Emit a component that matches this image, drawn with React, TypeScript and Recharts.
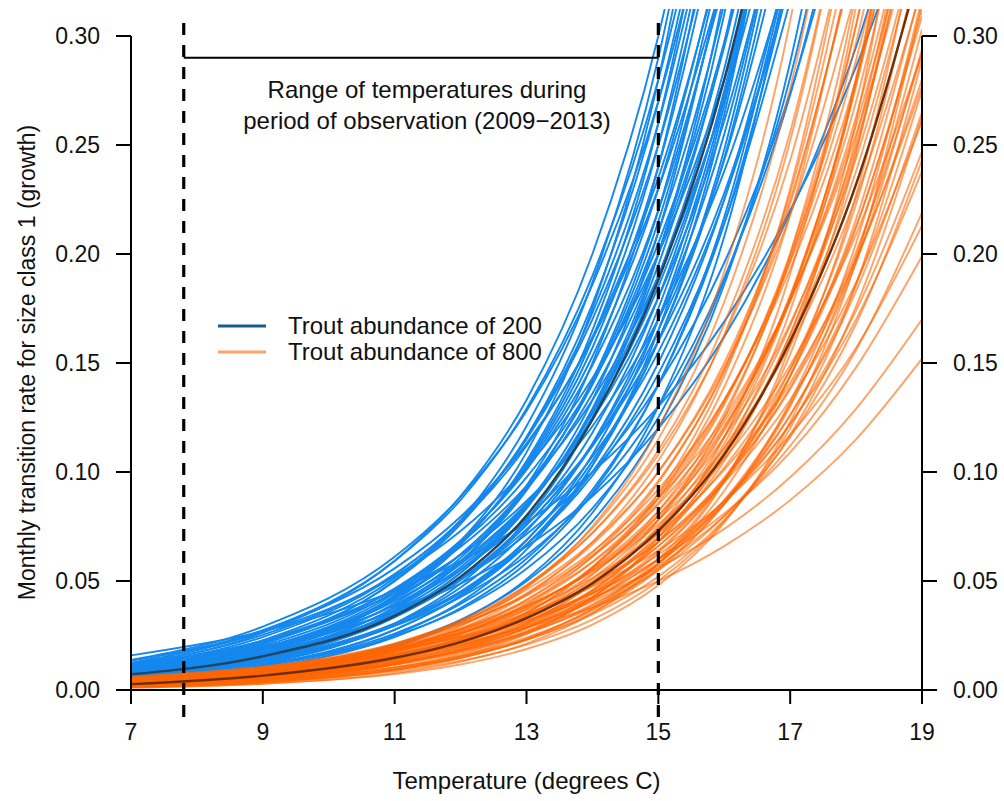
import React from 'react';
import { LineChart, Line, XAxis, YAxis, ReferenceLine, Legend } from 'recharts';

const FONT = '"Liberation Sans", Arial, Helvetica, sans-serif';

const temps = [7, 9, 11, 12, 13, 14, 15, 16, 17, 18, 19];
const xTicks = [7, 9, 11, 13, 15, 17, 19];
const yTicks = [0, 0.05, 0.1, 0.15, 0.2, 0.25, 0.3];
const obsRange = [7.8, 15];
const obsLineY = 0.29;
const annotationLines = ['Range of temperatures during', 'period of observation (2009\u22122013)'];
const legendLabels = ['Trout abundance of 200', 'Trout abundance of 800'];
const xTitle = 'Temperature (degrees C)';
const yTitle = 'Monthly transition rate for size class 1 (growth)';

// values at temps 7, 9, 11, 12, 13, 14, 15, 16, 17, 18, 19 (curves end once they leave the plot)
const blueCurves: number[][] = [
  [0.0136, 0.0266, 0.0521, 0.0729, 0.102, 0.143, 0.2, 0.28, 0.392],
  [0.0115, 0.0226, 0.0443, 0.0619, 0.0867, 0.121, 0.17, 0.238, 0.333],
  [0.0095, 0.0186, 0.0364, 0.051, 0.0714, 0.1, 0.14, 0.196, 0.274, 0.384],
  [0.0138, 0.0291, 0.0611, 0.0886, 0.128, 0.186, 0.27, 0.392],
  [0.012, 0.0253, 0.0532, 0.0771, 0.112, 0.162, 0.235, 0.341],
  [0.0105, 0.0221, 0.0464, 0.0672, 0.0975, 0.141, 0.205, 0.297, 0.431],
  [0.0092, 0.0194, 0.0407, 0.059, 0.0856, 0.124, 0.18, 0.261, 0.379],
  [0.0079, 0.0167, 0.0351, 0.0508, 0.0737, 0.107, 0.155, 0.225, 0.326],
  [0.0067, 0.014, 0.0294, 0.0426, 0.0618, 0.0897, 0.13, 0.189, 0.273, 0.396],
  [0.0117, 0.0263, 0.0593, 0.0889, 0.133, 0.2, 0.3, 0.45],
  [0.0101, 0.0228, 0.0514, 0.077, 0.116, 0.173, 0.26, 0.39],
  [0.009, 0.0202, 0.0454, 0.0682, 0.102, 0.153, 0.23, 0.345],
  [0.0082, 0.0184, 0.0415, 0.0622, 0.0933, 0.14, 0.21, 0.315, 0.473],
  [0.0074, 0.0167, 0.0375, 0.0563, 0.0844, 0.127, 0.19, 0.285, 0.428],
  [0.0066, 0.0149, 0.0336, 0.0504, 0.0756, 0.113, 0.17, 0.255, 0.383],
  [0.0059, 0.0132, 0.0296, 0.0444, 0.0667, 0.1, 0.15, 0.225, 0.338],
  [0.0049, 0.011, 0.0247, 0.037, 0.0556, 0.0833, 0.125, 0.188, 0.281, 0.422],
  [0.0087, 0.0209, 0.0503, 0.0779, 0.121, 0.187, 0.29, 0.45],
  [0.0075, 0.018, 0.0433, 0.0671, 0.104, 0.161, 0.25, 0.388],
  [0.0066, 0.0159, 0.0381, 0.0591, 0.0916, 0.142, 0.22, 0.341],
  [0.006, 0.0144, 0.0347, 0.0537, 0.0832, 0.129, 0.2, 0.31, 0.481],
  [0.0053, 0.0126, 0.0303, 0.047, 0.0728, 0.113, 0.175, 0.271, 0.42],
  [0.0048, 0.0115, 0.0277, 0.043, 0.0666, 0.103, 0.16, 0.248, 0.384],
  [0.0042, 0.0101, 0.0243, 0.0376, 0.0583, 0.0903, 0.14, 0.217, 0.336],
  [0.0036, 0.0087, 0.0208, 0.0322, 0.0499, 0.0774, 0.12, 0.186, 0.288, 0.447],
  [0.0065, 0.0167, 0.0427, 0.0683, 0.109, 0.175, 0.28, 0.448],
  [0.0056, 0.0143, 0.0366, 0.0586, 0.0937, 0.15, 0.24, 0.384],
  [0.0047, 0.0119, 0.0305, 0.0488, 0.0781, 0.125, 0.2, 0.32, 0.512],
  [0.0038, 0.0098, 0.0252, 0.0403, 0.0644, 0.103, 0.165, 0.264, 0.422],
  [0.003, 0.0078, 0.0198, 0.0317, 0.0508, 0.0813, 0.13, 0.208, 0.333],
  [0.0159, 0.0269, 0.0455, 0.0592, 0.0769, 0.1, 0.13, 0.169, 0.22, 0.286, 0.371],
  [0.0109, 0.0198, 0.0361, 0.0488, 0.0658, 0.0889, 0.12, 0.162, 0.219, 0.295, 0.399],
  [0.0125, 0.0272, 0.0592, 0.0872, 0.129, 0.19, 0.28, 0.413],
  [0.0112, 0.0243, 0.0528, 0.0779, 0.115, 0.17, 0.25, 0.369],
  [0.0098, 0.0214, 0.0465, 0.0686, 0.101, 0.149, 0.22, 0.325],
  [0.0089, 0.0194, 0.0423, 0.0623, 0.0919, 0.136, 0.2, 0.295, 0.435],
  [0.0083, 0.018, 0.0391, 0.0577, 0.085, 0.125, 0.185, 0.273, 0.403],
  [0.0074, 0.016, 0.0349, 0.0514, 0.0758, 0.112, 0.165, 0.243, 0.359],
  [0.0065, 0.0141, 0.0306, 0.0452, 0.0666, 0.0983, 0.145, 0.214, 0.316],
  [0.0092, 0.0215, 0.0499, 0.0761, 0.116, 0.177, 0.27, 0.412],
  [0.0082, 0.0191, 0.0444, 0.0677, 0.103, 0.157, 0.24, 0.366],
  [0.0074, 0.0171, 0.0398, 0.0606, 0.0925, 0.141, 0.215, 0.328],
  [0.0067, 0.0155, 0.0361, 0.055, 0.0839, 0.128, 0.195, 0.297, 0.454],
  [0.0062, 0.0143, 0.0333, 0.0508, 0.0774, 0.118, 0.18, 0.275, 0.419],
  [0.0055, 0.0127, 0.0296, 0.0451, 0.0688, 0.105, 0.16, 0.244, 0.372],
  [0.0048, 0.0111, 0.0259, 0.0395, 0.0602, 0.0918, 0.14, 0.214, 0.326],
  [0.0135, 0.0275, 0.0558, 0.0795, 0.113, 0.161, 0.23, 0.328],
  [0.0112, 0.0227, 0.0461, 0.0657, 0.0936, 0.133, 0.19, 0.271, 0.386],
  [0.0094, 0.0191, 0.0388, 0.0553, 0.0788, 0.112, 0.16, 0.228, 0.325],
  [0.0069, 0.017, 0.0423, 0.0666, 0.105, 0.165, 0.26, 0.41],
  [0.0055, 0.0138, 0.0341, 0.0538, 0.0847, 0.133, 0.21, 0.331],
  [0.0045, 0.0111, 0.0276, 0.0435, 0.0685, 0.108, 0.17, 0.268, 0.422],
];
const blueMean = [0.0072, 0.0155, 0.034, 0.052, 0.08, 0.124, 0.188, 0.28, 0.415];

const orangeCurves: number[][] = [
  [0.0054, 0.0095, 0.0165, 0.0217, 0.0287, 0.0379, 0.05, 0.066, 0.0871, 0.115, 0.152],
  [0.0061, 0.0106, 0.0184, 0.0243, 0.0321, 0.0424, 0.056, 0.0739, 0.0976, 0.129, 0.17],
  [0.0054, 0.0099, 0.0181, 0.0244, 0.0329, 0.0444, 0.06, 0.081, 0.109, 0.148, 0.199],
  [0.0058, 0.0106, 0.0193, 0.026, 0.0351, 0.0474, 0.064, 0.0864, 0.117, 0.157, 0.213],
  [0.0039, 0.0076, 0.0148, 0.0208, 0.0291, 0.0407, 0.057, 0.0798, 0.112, 0.156, 0.219],
  [0.0042, 0.0082, 0.0161, 0.0226, 0.0316, 0.0443, 0.062, 0.0868, 0.122, 0.17, 0.238],
  [0.0046, 0.009, 0.0177, 0.0248, 0.0347, 0.0486, 0.068, 0.0952, 0.133, 0.187, 0.261],
  [0.0049, 0.0096, 0.0187, 0.0262, 0.0367, 0.0514, 0.072, 0.101, 0.141, 0.198, 0.277],
  [0.0052, 0.0101, 0.0198, 0.0277, 0.0388, 0.0543, 0.076, 0.106, 0.149, 0.209, 0.292],
  [0.0028, 0.0059, 0.0124, 0.018, 0.0262, 0.0379, 0.055, 0.0798, 0.116, 0.168, 0.243],
  [0.0031, 0.0065, 0.0136, 0.0197, 0.0285, 0.0414, 0.06, 0.087, 0.126, 0.183, 0.265],
  [0.0034, 0.0071, 0.0149, 0.0216, 0.0314, 0.0455, 0.066, 0.0957, 0.139, 0.201, 0.292],
  [0.0036, 0.0075, 0.0158, 0.023, 0.0333, 0.0483, 0.07, 0.102, 0.147, 0.213, 0.309],
  [0.0041, 0.0086, 0.0181, 0.0262, 0.0381, 0.0552, 0.08, 0.116, 0.168, 0.244, 0.354],
  [0.0044, 0.0091, 0.0192, 0.0279, 0.0404, 0.0586, 0.085, 0.123, 0.179, 0.259, 0.376],
  [0.0047, 0.0099, 0.0208, 0.0302, 0.0438, 0.0635, 0.092, 0.133, 0.193, 0.28, 0.407],
  [0.002, 0.0046, 0.0103, 0.0154, 0.0231, 0.0347, 0.052, 0.078, 0.117, 0.176, 0.263],
  [0.0023, 0.0051, 0.0115, 0.0172, 0.0258, 0.0387, 0.058, 0.087, 0.131, 0.196, 0.294],
  [0.0025, 0.0056, 0.0126, 0.019, 0.0284, 0.0427, 0.064, 0.096, 0.144, 0.216, 0.324],
  [0.0029, 0.0065, 0.0146, 0.0219, 0.0329, 0.0493, 0.074, 0.111, 0.167, 0.25, 0.375],
  [0.0031, 0.007, 0.0158, 0.0237, 0.0356, 0.0533, 0.08, 0.12, 0.18, 0.27, 0.405],
  [0.0034, 0.0077, 0.0174, 0.0261, 0.0391, 0.0587, 0.088, 0.132, 0.198, 0.297, 0.446],
  [0.0039, 0.0088, 0.0198, 0.0296, 0.0444, 0.0667, 0.1, 0.15, 0.225, 0.338],
  [0.0042, 0.0095, 0.0213, 0.032, 0.048, 0.072, 0.108, 0.162, 0.243, 0.365],
  [0.0015, 0.0036, 0.0087, 0.0134, 0.0208, 0.0323, 0.05, 0.0775, 0.12, 0.186, 0.289],
  [0.0017, 0.004, 0.0095, 0.0148, 0.0229, 0.0355, 0.055, 0.0853, 0.132, 0.205, 0.317],
  [0.002, 0.0049, 0.0118, 0.0183, 0.0283, 0.0439, 0.068, 0.105, 0.163, 0.253, 0.393],
  [0.0023, 0.0054, 0.013, 0.0201, 0.0312, 0.0484, 0.075, 0.116, 0.18, 0.279, 0.433],
  [0.0025, 0.0059, 0.0142, 0.022, 0.0341, 0.0529, 0.082, 0.127, 0.197, 0.305, 0.473],
  [0.0029, 0.0069, 0.0165, 0.0255, 0.0395, 0.0613, 0.095, 0.147, 0.228, 0.354],
  [0.0032, 0.0076, 0.0182, 0.0282, 0.0437, 0.0678, 0.105, 0.163, 0.252, 0.391],
  [0.0035, 0.0083, 0.0199, 0.0309, 0.0479, 0.0742, 0.115, 0.178, 0.276, 0.428],
  [0.0011, 0.0029, 0.0073, 0.0117, 0.0188, 0.03, 0.048, 0.0768, 0.123, 0.197, 0.315],
  [0.0014, 0.0036, 0.0092, 0.0146, 0.0234, 0.0375, 0.06, 0.096, 0.154, 0.246, 0.393],
  [0.0016, 0.0041, 0.0104, 0.0166, 0.0266, 0.0425, 0.068, 0.109, 0.174, 0.279, 0.446],
  [0.0018, 0.0046, 0.0119, 0.019, 0.0305, 0.0488, 0.078, 0.125, 0.2, 0.32, 0.511],
  [0.0021, 0.0054, 0.0137, 0.022, 0.0352, 0.0563, 0.09, 0.144, 0.23, 0.369],
  [0.0028, 0.0072, 0.0183, 0.0293, 0.0469, 0.075, 0.12, 0.192, 0.307, 0.492],
  [0.0011, 0.0029, 0.0078, 0.0129, 0.0213, 0.0352, 0.058, 0.0957, 0.158, 0.261, 0.43],
  [0.0013, 0.0035, 0.0094, 0.0156, 0.0257, 0.0424, 0.07, 0.116, 0.191, 0.314, 0.519],
  [0.0026, 0.0056, 0.0123, 0.0181, 0.0267, 0.0393, 0.058, 0.0856, 0.126, 0.186, 0.275],
  [0.0029, 0.0064, 0.0139, 0.0206, 0.0303, 0.0448, 0.066, 0.0974, 0.144, 0.212, 0.312],
  [0.0033, 0.0072, 0.0156, 0.0231, 0.034, 0.0502, 0.074, 0.109, 0.161, 0.238, 0.35],
  [0.0037, 0.008, 0.0173, 0.0256, 0.0377, 0.0556, 0.082, 0.121, 0.178, 0.263, 0.388],
  [0.004, 0.0087, 0.019, 0.028, 0.0414, 0.061, 0.09, 0.133, 0.196, 0.289, 0.426],
  [0.0045, 0.0097, 0.0211, 0.0312, 0.046, 0.0678, 0.1, 0.148, 0.218, 0.321],
  [0.0019, 0.0045, 0.0104, 0.0158, 0.0241, 0.0367, 0.056, 0.0854, 0.13, 0.199, 0.303],
  [0.0022, 0.005, 0.0117, 0.0178, 0.0271, 0.0413, 0.063, 0.0961, 0.147, 0.223, 0.341],
  [0.0024, 0.0056, 0.0129, 0.0197, 0.0301, 0.0459, 0.07, 0.107, 0.163, 0.248, 0.379],
  [0.0027, 0.0062, 0.0144, 0.022, 0.0335, 0.0511, 0.078, 0.119, 0.181, 0.277, 0.422],
  [0.0029, 0.0068, 0.0159, 0.0243, 0.037, 0.0564, 0.086, 0.131, 0.2, 0.305, 0.465],
  [0.0033, 0.0076, 0.0178, 0.0271, 0.0413, 0.063, 0.096, 0.146, 0.223, 0.341],
  [0.0038, 0.0088, 0.0203, 0.031, 0.0473, 0.0721, 0.11, 0.168, 0.256, 0.39],
  [0.0035, 0.0072, 0.0146, 0.0207, 0.0296, 0.0421, 0.06, 0.0855, 0.122, 0.174, 0.247],
  [0.004, 0.0081, 0.0165, 0.0235, 0.0335, 0.0477, 0.068, 0.0969, 0.138, 0.197, 0.28],
  [0.0046, 0.0093, 0.0189, 0.027, 0.0384, 0.0547, 0.078, 0.111, 0.158, 0.226, 0.322],
  [0.0052, 0.0105, 0.0213, 0.0304, 0.0433, 0.0618, 0.088, 0.125, 0.179, 0.255, 0.363],
  [0.0015, 0.0038, 0.0094, 0.0149, 0.0234, 0.0368, 0.058, 0.0914, 0.144, 0.227, 0.357],
  [0.0019, 0.0047, 0.0117, 0.0184, 0.029, 0.0457, 0.072, 0.113, 0.179, 0.281, 0.443],
  [0.0023, 0.0058, 0.0143, 0.0225, 0.0355, 0.0559, 0.088, 0.139, 0.218, 0.344],
];
const orangeMean = [0.0027, 0.0066, 0.0148, 0.022, 0.033, 0.049, 0.073, 0.108, 0.16, 0.232, 0.335];

const BLUE = '#1588EE';
const ORANGE = '#FF6600';
const BLUE_MEAN = '#22445C';
const ORANGE_MEAN = '#6E2F08';
const LEGEND_BLUE = '#185A8C';
const LEGEND_ORANGE = '#FFA366';
const TEXT = '#111';

const data = temps.map((t, i) => {
  const row: Record<string, number | null> = { t };
  blueCurves.forEach((c, j) => { row['b' + j] = c[i] ?? null; });
  orangeCurves.forEach((c, j) => { row['o' + j] = c[i] ?? null; });
  row.bm = blueMean[i] ?? null;
  row.om = orangeMean[i] ?? null;
  return row;
});

const XTitle = (props: any) => {
  const vb = props.viewBox || { x: 0, y: 0, width: 0 };
  return (
    <text x={vb.x + vb.width / 2} y={vb.y + 99} textAnchor="middle" fontSize={24} fontFamily={FONT} fill={TEXT}>
      {xTitle}
    </text>
  );
};

const YTitle = (props: any) => {
  const vb = props.viewBox || { x: 0, y: 0, height: 0 };
  const cx = 27;
  const cy = vb.y + vb.height / 2 + 13;
  return (
    <text x={cx} y={cy} transform={`rotate(-90, ${cx}, ${cy})`} textAnchor="middle" dominantBaseline="central" fontSize={23} fontFamily={FONT} fill={TEXT}>
      {yTitle}
    </text>
  );
};

const AnnotationLabel = (props: any) => {
  const vb = props.viewBox || { x: 0, y: 0, width: 0 };
  const cx = vb.x + vb.width / 2 + 6;
  return (
    <g>
      <text x={cx} y={vb.y + 40} textAnchor="middle" fontSize={24} fontFamily={FONT} fill={TEXT}>{annotationLines[0]}</text>
      <text x={cx} y={vb.y + 71} textAnchor="middle" fontSize={24} fontFamily={FONT} fill={TEXT}>{annotationLines[1]}</text>
    </g>
  );
};

const renderLegend = () => (
  <div style={{ fontFamily: FONT, fontSize: 24, color: TEXT }}>
    {[LEGEND_BLUE, LEGEND_ORANGE].map((col, i) => (
      <div key={i} style={{ display: 'flex', alignItems: 'center', height: 26, whiteSpace: 'nowrap' }}>
        <svg width={48} height={6} style={{ display: 'block' }}>
          <line x1={0} y1={3} x2={48} y2={3} stroke={col} strokeWidth={3} />
        </svg>
        <span style={{ marginLeft: 22, lineHeight: '26px' }}>{legendLabels[i]}</span>
      </div>
    ))}
  </div>
);

const tickStyle = { fill: TEXT, fontSize: 23, fontFamily: FONT };
const fmt = (v: number) => v.toFixed(2);

export default function App() {
  return (
    <div style={{ position: 'absolute', left: 0, top: 0, width: 1004, height: 801, background: '#fff' }}>
      <LineChart width={1004} height={801} data={data} margin={{ top: 9, right: 0, bottom: 0, left: 0 }}>
        <XAxis
          dataKey="t"
          type="number"
          domain={[7, 19]}
          ticks={xTicks}
          interval={0}
          allowDataOverflow
          height={111}
          tickSize={14}
          tickMargin={20}
          tick={tickStyle}
          axisLine={{ stroke: '#000', strokeWidth: 2 }}
          tickLine={{ stroke: '#000', strokeWidth: 2 }}
          label={{ content: XTitle }}
        />
        <YAxis
          yAxisId="l"
          type="number"
          domain={[0, 0.3124]}
          ticks={yTicks}
          interval={0}
          allowDataOverflow
          width={131}
          tickSize={15}
          tickMargin={16}
          tick={tickStyle}
          tickFormatter={fmt}
          axisLine={false}
          tickLine={{ stroke: '#000', strokeWidth: 2 }}
          label={{ content: YTitle }}
        />
        <YAxis
          yAxisId="r"
          orientation="right"
          type="number"
          domain={[0, 0.3124]}
          ticks={yTicks}
          interval={0}
          allowDataOverflow
          width={82}
          tickSize={15}
          tickMargin={16}
          tick={tickStyle}
          tickFormatter={fmt}
          axisLine={false}
          tickLine={{ stroke: '#000', strokeWidth: 2 }}
        />

        {blueCurves.map((_, j) => (
          <Line key={'b' + j} yAxisId="l" dataKey={'b' + j} type="monotone" stroke={BLUE} strokeWidth={1.9}
            dot={false} activeDot={false} isAnimationActive={false} legendType="none" />
        ))}
        <Line yAxisId="l" dataKey="bm" type="monotone" stroke={BLUE_MEAN} strokeWidth={2.4}
          dot={false} activeDot={false} isAnimationActive={false} legendType="none" />
        {orangeCurves.map((_, j) => (
          <Line key={'o' + j} yAxisId="l" dataKey={'o' + j} type="monotone" stroke={ORANGE} strokeOpacity={0.6} strokeWidth={1.9}
            dot={false} activeDot={false} isAnimationActive={false} legendType="none" />
        ))}
        <Line yAxisId="l" dataKey="om" type="monotone" stroke={ORANGE_MEAN} strokeWidth={2.4}
          dot={false} activeDot={false} isAnimationActive={false} legendType="none" />

        <ReferenceLine yAxisId="l" segment={[{ x: 7, y: 0 }, { x: 7, y: 0.3 }]} stroke="#000" strokeWidth={2} ifOverflow="visible" />
        <ReferenceLine yAxisId="l" segment={[{ x: 19, y: 0 }, { x: 19, y: 0.3 }]} stroke="#000" strokeWidth={2} ifOverflow="visible" />
        {obsRange.map((x) => (
          <ReferenceLine key={'d' + x} yAxisId="l" segment={[{ x, y: -0.0124 }, { x, y: 0.3073 }]} stroke="#000"
            strokeWidth={3.2} strokeDasharray="12 10" ifOverflow="visible" />
        ))}
        <ReferenceLine yAxisId="l" segment={[{ x: obsRange[0], y: obsLineY }, { x: obsRange[1], y: obsLineY }]} stroke="#000"
          strokeWidth={2} ifOverflow="visible" label={AnnotationLabel} />

        <Legend layout="vertical" verticalAlign="middle" align="center" content={renderLegend}
          wrapperStyle={{ left: 218, top: 313, width: 360, height: 52 }} />
      </LineChart>
    </div>
  );
}
